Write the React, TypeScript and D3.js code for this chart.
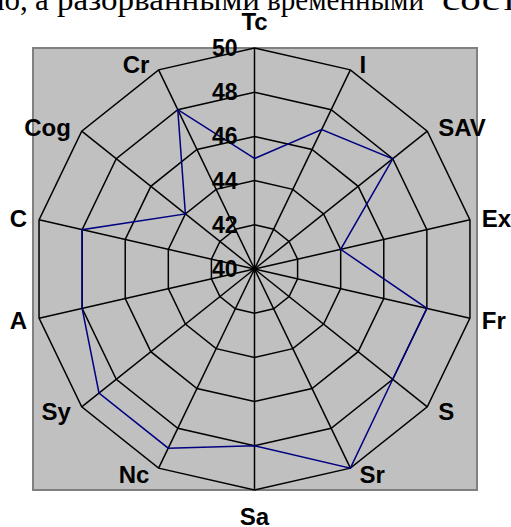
import React, { useEffect, useRef } from 'react';
import * as d3 from 'd3';

const axes = ['Tc', 'I', 'SAV', 'Ex', 'Fr', 'S', 'Sr', 'Sa', 'Nc', 'Sy', 'A', 'C', 'Cog', 'Cr'];
const values = [45, 47, 48, 44, 48, 48, 50, 48, 49, 49, 48, 48, 44, 48];
const ticks = [40, 42, 44, 46, 48, 50];
// the justified line of document text above the chart, word by word
const captionWords = ['но,', 'а', 'разорванными', 'временными', 'сост'];
const captionStarts = [-12, 35, 57, 267, 442];
const captionWidths = [0, 0, 203, 157, 76];

const App: React.FC = () => {
    const chartRef = useRef<SVGSVGElement | null>(null);

    useEffect(() => {
        if (!chartRef.current) return;
        const width = 511;
        const height = 527;
        const cx = 254.5;
        const cy = 269;
        const radius = 221;

        const svg = d3.select(chartRef.current)
            .attr('width', width)
            .attr('height', height);
        svg.selectAll('*').remove();

        const r = d3.scaleLinear().domain([40, 50]).range([0, radius]);
        const angle = d3.scaleLinear().domain([0, axes.length]).range([0, 2 * Math.PI]);
        const pt = (i: number, rr: number): [number, number] => [
            cx + rr * Math.sin(angle(i)),
            cy - rr * Math.cos(angle(i))
        ];

        svg.selectAll('.caption')
            .data(captionWords)
            .enter().append('text')
            .attr('class', 'caption')
            .attr('x', (_, i) => captionStarts[i])
            .attr('y', 10)
            .each(function (_, i) {
                if (captionWidths[i]) {
                    d3.select(this)
                        .attr('textLength', captionWidths[i])
                        .attr('lengthAdjust', 'spacingAndGlyphs');
                }
            })
            .style('font-family', '"Liberation Serif", "Times New Roman", serif')
            .style('font-size', '31px')
            .text(d => d);

        // plot area
        svg.append('rect')
            .attr('x', 33)
            .attr('y', 48)
            .attr('width', 444)
            .attr('height', 442)
            .attr('fill', '#c0c0c0')
            .attr('stroke', '#808080')
            .attr('stroke-width', 2);

        const line = d3.line<[number, number]>().curve(d3.curveLinearClosed);

        // rings
        svg.selectAll('.ring')
            .data(ticks.slice(1))
            .enter().append('path')
            .attr('class', 'ring')
            .attr('d', t => line(axes.map((_, i) => pt(i, r(t)))))
            .attr('fill', 'none')
            .attr('stroke', '#000')
            .attr('stroke-width', 1.5);

        // spokes
        svg.selectAll('.spoke')
            .data(axes)
            .enter().append('line')
            .attr('class', 'spoke')
            .attr('x1', cx)
            .attr('y1', cy)
            .attr('x2', (_, i) => pt(i, radius)[0])
            .attr('y2', (_, i) => pt(i, radius)[1])
            .attr('stroke', '#000')
            .attr('stroke-width', 1.5);

        // series
        svg.append('path')
            .attr('d', line(values.map((v, i) => pt(i, r(v)))))
            .attr('fill', 'none')
            .attr('stroke', '#000080')
            .attr('stroke-width', 1.5);

        const font = '"Liberation Sans", Arial, sans-serif';

        // tick labels
        svg.selectAll('.tick-label')
            .data(ticks)
            .enter().append('text')
            .attr('class', 'tick-label')
            .attr('x', cx - 17)
            .attr('y', t => cy - r(t) + 8)
            .attr('text-anchor', 'end')
            .style('font-family', font)
            .style('font-weight', 'bold')
            .style('font-size', '23px')
            .text(t => String(t));

        // axis labels
        svg.selectAll('.axis-label')
            .data(axes)
            .enter().append('text')
            .attr('class', 'axis-label')
            .each(function (d, i) {
                const a = angle(i);
                const s = Math.sin(a);
                const c = Math.cos(a);
                const [vx, vy] = pt(i, radius);
                const el = d3.select(this);
                if (Math.abs(s) < 0.01) {
                    el.attr('x', vx)
                        .attr('y', c > 0 ? vy - 18 : vy + 35)
                        .attr('text-anchor', 'middle');
                } else {
                    const off = 7 + 5 * Math.abs(s);
                    el.attr('x', s > 0 ? vx + off : vx - off)
                        .attr('y', vy - 7 * c + 1 + 8)
                        .attr('text-anchor', s > 0 ? 'start' : 'end');
                }
            })
            .style('font-family', font)
            .style('font-weight', 'bold')
            .style('font-size', '24px')
            .text(d => d);
    }, []);

    return (
        <svg ref={chartRef} style={{ position: 'absolute', left: 0, top: 0, background: '#fff' }}></svg>
    );
};

export default App;
